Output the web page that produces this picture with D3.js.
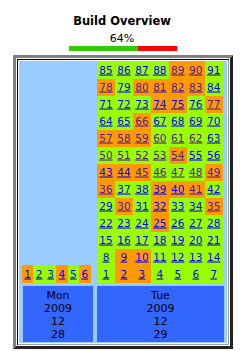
<!DOCTYPE html>
<html>
<head>
<meta charset="utf-8">
<script src="https://cdn.jsdelivr.net/npm/d3@7"></script>
<style>
  body { margin: 0; background: #fff; }
  text { font-family: "DejaVu Sans", Verdana, sans-serif; }
  .lnk { text-decoration: underline; }
</style>
</head>
<body>
<div id="chart"></div>
<script>
// build overview data
const dayNames = ["Mon", "Tue"];
const years = [2009, 2009];
const months = [12, 12];
const dates = [28, 29];
const buildCounts = [6, 91];
const failedMon = [1, 4, 6];
const failedTue = [2, 3, 9, 10, 25, 30, 32, 35, 36, 39, 40, 41, 43, 44, 45, 49,
  54, 57, 58, 59, 66, 74, 75, 77, 78, 80, 81, 82, 83, 89, 90];
const visitedTue = [30, 35, 36, 41, 45, 46, 47, 48, 49, 50, 51, 52, 53, 54, 57,
  58, 59, 60, 61, 62, 66, 77, 78, 80, 81, 82, 83, 89, 90];
const passPercent = 64;

const W = 244, H = 351;
const svg = d3.select("#chart").append("svg")
  .attr("width", W).attr("height", H)
  .attr("shape-rendering", "crispEdges");

// title + progress
svg.append("text").attr("x", 122).attr("y", 25)
  .attr("text-anchor", "middle").attr("font-weight", "bold")
  .attr("font-size", 11.5)
  .text("Build Overview");
svg.append("text").attr("x", 122).attr("y", 41.5)
  .attr("text-anchor", "middle").attr("font-size", 11)
  .text(passPercent + "%");

const xBar = d3.scaleLinear().domain([0, 100]).range([69, 177]);
svg.append("rect").attr("x", xBar(0)).attr("y", 46)
  .attr("width", xBar(passPercent) - xBar(0)).attr("height", 5).attr("fill", "#33cc00");
svg.append("rect").attr("x", xBar(passPercent)).attr("y", 46)
  .attr("width", xBar(100) - xBar(passPercent)).attr("height", 5).attr("fill", "#ff0000");

// frame (inset table borders)
svg.append("rect").attr("x", 13).attr("y", 55).attr("width", 220).attr("height", 294).attr("fill", "#222");
svg.append("path").attr("d", "M13,55H233L230,58H16V346L13,349Z").attr("fill", "#808080");
svg.append("rect").attr("x", 16).attr("y", 58).attr("width", 214).attr("height", 288).attr("fill", "#fff");
svg.append("rect").attr("x", 17).attr("y", 59).attr("width", 212).attr("height", 286).attr("fill", "#a0a0a0");
svg.append("path").attr("d", "M17,59H229L228,60H18V344L17,345Z").attr("fill", "#000");
svg.append("rect").attr("x", 18).attr("y", 60).attr("width", 210).attr("height", 284).attr("fill", "#fff");
svg.append("rect").attr("x", 19).attr("y", 61).attr("width", 208).attr("height", 282).attr("fill", "#99ccff");

// day header panels
const panelX = [[23, 93], [97, 224]];
const dayG = svg.selectAll(".day").data(dayNames).join("g").attr("class", "day");
dayG.append("rect")
  .attr("x", (d, i) => panelX[i][0]).attr("y", 286)
  .attr("width", (d, i) => panelX[i][1] - panelX[i][0]).attr("height", 56)
  .attr("fill", "#3366ff");
dayG.each(function (d, i) {
  const lines = [dayNames[i], years[i], months[i], dates[i]];
  d3.select(this).selectAll("text").data(lines).join("text")
    .attr("x", (panelX[i][0] + panelX[i][1]) / 2)
    .attr("y", (l, j) => 298.5 + j * 13)
    .attr("text-anchor", "middle").attr("font-size", 11)
    .text((l) => l);
});

// build grids
const yRow = d3.scaleBand().domain(d3.range(13)).range([61, 282]);
const xMon = d3.scaleBand().domain(d3.range(buildCounts[0])).range([22, 90.5]);
const xTue = d3.scaleBand().domain(d3.range(7)).range([97, 222.7]);

const cells = [];
d3.range(1, buildCounts[0] + 1).forEach((n) => {
  cells.push({ n, x: xMon(n - 1), w: xMon.bandwidth(), row: 12,
    fail: failedMon.includes(n), visited: false });
});
d3.range(1, buildCounts[1] + 1).forEach((n) => {
  cells.push({ n, x: xTue((n - 1) % 7), w: xTue.bandwidth(),
    row: 12 - Math.floor((n - 1) / 7),
    fail: failedTue.includes(n), visited: visitedTue.includes(n) });
});

const cellG = svg.append("g").selectAll("g").data(cells).join("g");
cellG.append("rect")
  .attr("x", (d) => d.x).attr("y", (d) => yRow(d.row))
  .attr("width", (d) => d.w + 0.5).attr("height", yRow.bandwidth() + 0.5)
  .attr("fill", (d) => (d.fail ? "#ff9900" : "#99ff00"));
cellG.append("text").attr("class", "lnk")
  .attr("x", (d) => d.x + d.w / 2)
  .attr("y", (d) => yRow(d.row) + 12.5)
  .attr("text-anchor", "middle").attr("font-size", 10.5)
  .attr("fill", (d) => (d.visited ? "#551a8b" : "#0000ff"))
  .text((d) => d.n);
</script>
</body>
</html>
